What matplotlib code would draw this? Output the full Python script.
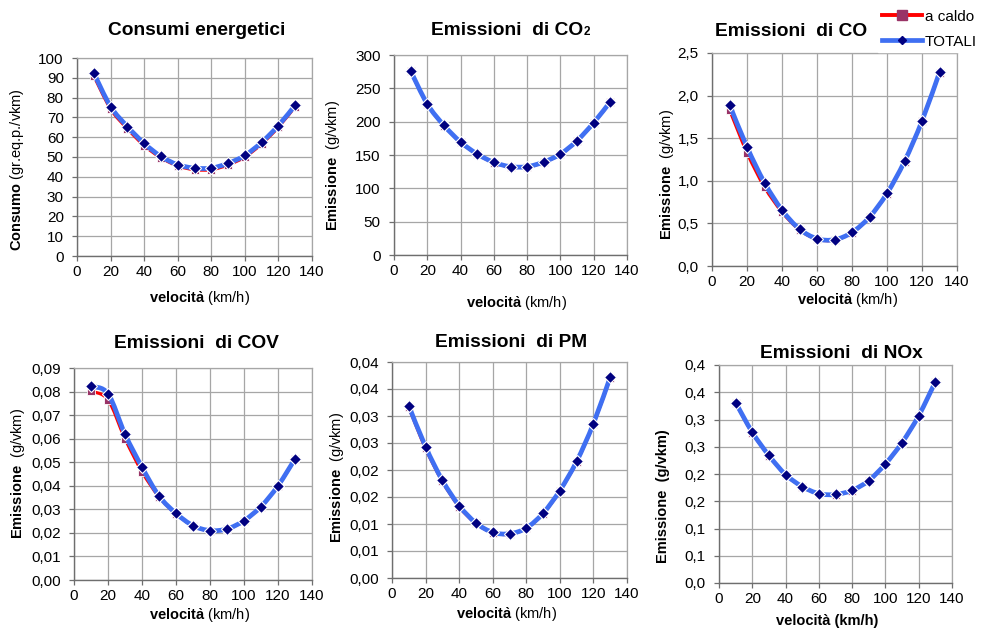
import matplotlib
matplotlib.use('Agg')
import matplotlib.pyplot as plt
from matplotlib.path import Path
from matplotlib.patches import PathPatch
from matplotlib.lines import Line2D
import numpy as np

plt.rcParams['font.family'] = ['Liberation Sans', 'DejaVu Sans']
plt.rcParams['mathtext.fontset'] = 'custom'
plt.rcParams['mathtext.rm'] = 'Liberation Sans'
plt.rcParams['mathtext.bf'] = 'Liberation Sans:bold'
plt.rcParams['mathtext.it'] = 'Liberation Sans:italic'

speed = [10, 20, 30, 40, 50, 60, 70, 80, 90, 100, 110, 120, 130]

cons_caldo = [91.0, 74.3, 64.3, 55.8, 49.6, 45.5, 43.6, 43.6, 46.0, 50.0, 56.6, 65.1, 75.5]
cons_tot = [92.4, 75.5, 65.4, 56.9, 50.3, 46.1, 44.4, 44.4, 46.8, 50.8, 57.4, 65.9, 76.2]

co2_caldo = [275.5, 226.0, 194.0, 169.0, 151.0, 138.5, 132.0, 132.0, 139.0, 151.0, 171.0, 198.0, 229.5]
co2_tot = [276.0, 226.5, 194.5, 169.5, 151.5, 139.0, 132.5, 132.5, 139.5, 151.5, 171.5, 198.5, 230.0]

co_caldo = [1.835, 1.33, 0.927, 0.634, 0.425, 0.315, 0.305, 0.392, 0.572, 0.850, 1.225, 1.70, 2.27]
co_tot = [1.894, 1.397, 0.978, 0.657, 0.434, 0.321, 0.309, 0.395, 0.575, 0.853, 1.228, 1.702, 2.273]

cov_caldo = [0.0801, 0.0765, 0.0600, 0.0460, 0.0353, 0.0281, 0.0230, 0.0209, 0.0216, 0.0251, 0.0311, 0.0399, 0.0513]
cov_tot = [0.0822, 0.0791, 0.0619, 0.0479, 0.0357, 0.0283, 0.0231, 0.0210, 0.0217, 0.0252, 0.0312, 0.0400, 0.0514]

pm_caldo = [0.0316, 0.0240, 0.0179, 0.0132, 0.0101, 0.0084, 0.0081, 0.0092, 0.0119, 0.0161, 0.0215, 0.0285, 0.0371]
pm_tot = [0.0319, 0.0243, 0.0181, 0.0134, 0.0102, 0.00846, 0.0082, 0.00926, 0.0120, 0.0162, 0.0216, 0.0286, 0.0372]

nox_caldo = [0.330, 0.2756, 0.2335, 0.1985, 0.1767, 0.1637, 0.1620, 0.1697, 0.1877, 0.2183, 0.2574, 0.3067, 0.3687]
nox_tot = [0.331, 0.2766, 0.234, 0.199, 0.177, 0.164, 0.1624, 0.170, 0.188, 0.2186, 0.2577, 0.307, 0.369]

x_ticks = [0, 20, 40, 60, 80, 100, 120, 140]

cons_yticks = [0, 10, 20, 30, 40, 50, 60, 70, 80, 90, 100]
co2_yticks = [0, 50, 100, 150, 200, 250, 300]
co_yticks = [0.0, 0.5, 1.0, 1.5, 2.0, 2.5]
co_ylabels = ['0,0', '0,5', '1,0', '1,5', '2,0', '2,5']
cov_yticks = [0.0, 0.01, 0.02, 0.03, 0.04, 0.05, 0.06, 0.07, 0.08, 0.09]
cov_ylabels = ['0,00', '0,01', '0,02', '0,03', '0,04', '0,05', '0,06', '0,07', '0,08', '0,09']
pm_yticks = [0.0, 0.005, 0.01, 0.015, 0.02, 0.025, 0.03, 0.035, 0.04]
pm_ylabels = ['0,00', '0,01', '0,01', '0,02', '0,02', '0,03', '0,03', '0,04', '0,04']
nox_yticks = [0.0, 0.05, 0.1, 0.15, 0.2, 0.25, 0.3, 0.35, 0.4]
nox_ylabels = ['0,0', '0,1', '0,1', '0,2', '0,2', '0,3', '0,3', '0,4', '0,4']

BLUE = '#3f6ff2'
RED = '#ff0000'
NAVY = '#000080'
PLUM = '#993366'

W, H = 981, 628


def smooth_path(xs, ys):
    # Excel-style smoothed line: cubic bezier through the points
    p = np.column_stack([xs, ys]).astype(float)
    n = len(p)
    verts = [p[0]]
    codes = [Path.MOVETO]
    for i in range(n - 1):
        p0 = p[i - 1] if i > 0 else p[i]
        p3 = p[i + 2] if i + 2 < n else p[i + 1]
        c1 = p[i] + (p[i + 1] - p0) / 6
        c2 = p[i + 1] - (p3 - p[i]) / 6
        verts += [c1, c2, p[i + 1]]
        codes += [Path.CURVE4] * 3
    return Path(verts, codes)


def panel(fig, box, caldo, tot, yticks, ylabels):
    l, r, t, b = box
    ax = fig.add_axes([l / W, 1 - b / H, (r - l) / W, (b - t) / H])
    ax.add_patch(PathPatch(smooth_path(speed, caldo), fill=False, ec=RED, lw=2.3,
                           capstyle='round', joinstyle='round', zorder=3))
    ax.plot(speed, caldo, ls='none', marker='s', ms=5.5, mfc=PLUM, mec='white', mew=0.6, zorder=4)
    ax.add_patch(PathPatch(smooth_path(speed, tot), fill=False, ec=BLUE, lw=3.4,
                           capstyle='round', joinstyle='round', zorder=5))
    ax.plot(speed, tot, ls='none', marker='D', ms=6, mfc=NAVY, mec='white', mew=0.8, zorder=6)
    ax.set_xlim(0, 140)
    ax.set_ylim(yticks[0], yticks[-1])
    ax.set_xticks(x_ticks)
    ax.set_yticks(yticks)
    if ylabels is not None:
        ax.set_yticklabels(ylabels)
    ax.grid(True, color='#a6a6a6', lw=0.9)
    ax.set_axisbelow(True)
    for s in ['top', 'right']:
        ax.spines[s].set_color('#a6a6a6')
        ax.spines[s].set_linewidth(0.9)
    for s in ['left', 'bottom']:
        ax.spines[s].set_color('#6e6e6e')
        ax.spines[s].set_linewidth(1.0)
    ax.tick_params(direction='out', length=3.5, width=0.9, color='#6e6e6e', labelsize=11)
    ax.tick_params(axis='x', pad=3)
    ax.tick_params(axis='y', pad=6)
    return ax


fig = plt.figure(figsize=(W / 100, H / 100), dpi=100)

panel(fig, (77, 312, 58, 256), cons_caldo, cons_tot, cons_yticks, None)
panel(fig, (394, 627, 55, 255), co2_caldo, co2_tot, co2_yticks, None)
panel(fig, (712, 957, 53, 266), co_caldo, co_tot, co_yticks, co_ylabels)
panel(fig, (74, 312, 368, 580), cov_caldo, cov_tot, cov_yticks, cov_ylabels)
panel(fig, (392, 627, 362, 578), pm_caldo, pm_tot, pm_yticks, pm_ylabels)
panel(fig, (719, 952, 365, 583), nox_caldo, nox_tot, nox_yticks, nox_ylabels)

# titles (baseline aligned)
tkw = dict(fontsize=13.8, fontweight='bold', va='baseline')
fig.text(197 / W, 1 - 35 / H, 'Consumi energetici', ha='center', **tkw)
fig.text(583 / W, 1 - 35 / H, 'Emissioni  di CO', ha='right', **tkw)
fig.text(584 / W, 1 - 35 / H, '2', ha='left', fontsize=8.5, fontweight='bold', va='baseline')
fig.text(791 / W, 1 - 36 / H, 'Emissioni  di CO', ha='center', **tkw)
fig.text(196 / W, 1 - 348 / H, 'Emissioni  di COV', ha='center', **tkw)
fig.text(511 / W, 1 - 347 / H, 'Emissioni  di PM', ha='center', **tkw)
fig.text(841 / W, 1 - 358 / H, 'Emissioni  di NOx', ha='center', **tkw)

# axis labels
xl = r'$\bf{velocit\`a}$ (km/h)'
lkw = dict(fontsize=10.5, ha='center', va='center')
fig.text(200 / W, 1 - 299 / H, xl, **lkw)
fig.text(517 / W, 1 - 304 / H, xl, **lkw)
fig.text(848 / W, 1 - 301 / H, xl, **lkw)
fig.text(200 / W, 1 - 616 / H, xl, **lkw)
fig.text(507 / W, 1 - 615 / H, xl, **lkw)
fig.text(827 / W, 1 - 621 / H, 'velocità (km/h)', fontweight='bold', **lkw)

yl = r'$\bf{Emissione}$  (g/vkm)'
fig.text(17 / W, 1 - 170 / H, r'$\bf{Consumo}$ (gr.eq.p./vkm)', rotation=90, **lkw)
fig.text(333 / W, 1 - 165 / H, yl, rotation=90, **lkw)
fig.text(667 / W, 1 - 174 / H, yl, rotation=90, **lkw)
fig.text(18 / W, 1 - 473 / H, yl, rotation=90, **lkw)
fig.text(337 / W, 1 - 477 / H, yl, rotation=90, **lkw)
fig.text(663 / W, 1 - 496 / H, 'Emissione  (g/vkm)', rotation=90, fontweight='bold', **lkw)

# legend
handles = [
    Line2D([], [], color=RED, lw=2.8, marker='s', ms=7, mfc=PLUM, mec=PLUM),
    Line2D([], [], color=BLUE, lw=3.4, marker='D', ms=4.5, mfc=NAVY, mec=NAVY),
]
fig.legend(handles, ['a caldo', 'TOTALI'], loc='upper right', bbox_to_anchor=(1.0, 1.0 - 6 / H),
           fontsize=11, frameon=True, facecolor='white', edgecolor='white', fancybox=False,
           framealpha=1, handlelength=2.6, handletextpad=0.2, labelspacing=0.7,
           borderpad=0.25, borderaxespad=0.0)

fig.savefig('out.png', dpi=100)
